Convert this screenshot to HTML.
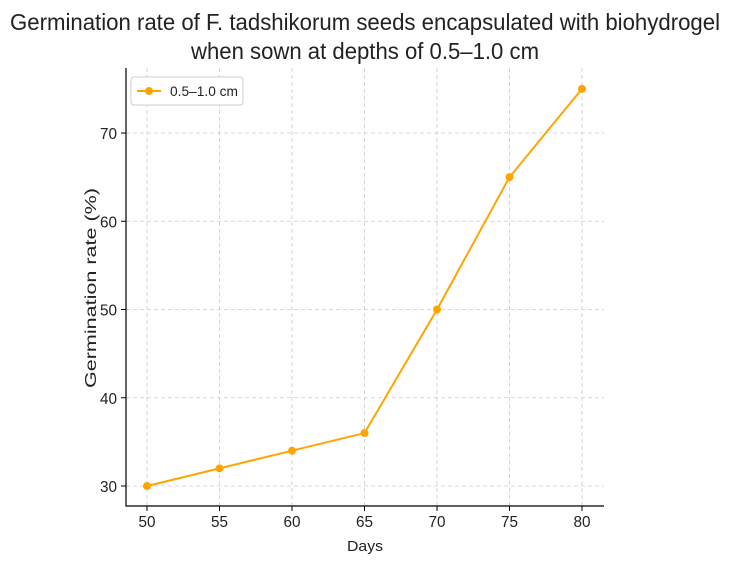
<!DOCTYPE html>
<html><head><meta charset="utf-8"><style>
body{margin:0;background:#fff}
svg text{font-family:"Liberation Sans",sans-serif;fill:#222}
</style></head><body>
<svg id="chart" width="729" height="566" xmlns="http://www.w3.org/2000/svg">
<text x="365" y="30" font-size="23" text-anchor="middle" textLength="710" lengthAdjust="spacingAndGlyphs">Germination rate of F. tadshikorum seeds encapsulated with biohydrogel</text>
<text x="365" y="59" font-size="23" text-anchor="middle" textLength="348" lengthAdjust="spacingAndGlyphs">when sown at depths of 0.5–1.0 cm</text>
<g id="grid"></g><g id="axes"></g><g id="series"></g>
<text x="365" y="551" font-size="15" text-anchor="middle" textLength="36" lengthAdjust="spacingAndGlyphs">Days</text>
<text transform="translate(96,288) rotate(-90)" font-size="16" text-anchor="middle" textLength="200" lengthAdjust="spacingAndGlyphs">Germination rate (%)</text>
<g>
<rect x="131" y="77" width="112" height="28" rx="3" fill="#fff" stroke="#ccc"/>
<line x1="137" y1="91" x2="161" y2="91" stroke="#FFA500" stroke-width="2"/>
<circle cx="149" cy="91" r="4" fill="#FFA500"/>
<text x="170" y="96" font-size="14" textLength="68" lengthAdjust="spacingAndGlyphs">0.5–1.0 cm</text>
</g>
</svg>
<script>
const days=[50,55,60,65,70,75,80];
const rates=[30,32,34,36,50,65,75];
const xTicks=[50,55,60,65,70,75,80];
const yTicks=[30,40,50,60,70];
const NS="http://www.w3.org/2000/svg";
const L=126,R=604,T=68,B=506;
const xs=v=>147+(v-50)*(582-147)/30;
const ys=v=>486-(v-30)*(486-133)/40;
function mk(tag,attrs,parent){const e=document.createElementNS(NS,tag);for(const k in attrs)e.setAttribute(k,attrs[k]);document.getElementById(parent).appendChild(e);return e;}
xTicks.forEach(t=>{
 const g=mk('line',{x1:xs(t),x2:xs(t),y1:T,y2:B,stroke:'#ccc','stroke-dasharray':'4,3','stroke-width':0.8},'grid');
 
 
 const tk=mk('line',{x1:xs(t),x2:xs(t),y1:B,y2:B+5,stroke:'#000'},'axes');
 
 
 const tx=mk('text',{x:xs(t),y:B+21,'font-size':16,'text-anchor':'middle',textLength:17,lengthAdjust:'spacingAndGlyphs'},'axes');
 
 
 tx.textContent=t;
});
yTicks.forEach(t=>{
 const g=mk('line',{x1:L,x2:R,y1:ys(t),y2:ys(t),stroke:'#ccc','stroke-dasharray':'4,3','stroke-width':0.8},'grid');
 
 
 const tk=mk('line',{x1:L-5,x2:L,y1:ys(t),y2:ys(t),stroke:'#000'},'axes');
 
 
 const tx=mk('text',{x:L-9,y:ys(t)+6,'font-size':16,'text-anchor':'end',textLength:17,lengthAdjust:'spacingAndGlyphs'},'axes');
 
 
 tx.textContent=t;
});
const ax=mk('path',{d:`M${L},${T} V${B} H${R}`,fill:'none',stroke:'#000','stroke-width':1.2},'axes');


const ln=mk('polyline',{points:days.map((d,i)=>xs(d)+','+ys(rates[i])).join(' '),fill:'none',stroke:'#FFA500','stroke-width':2},'series');


days.forEach((d,i)=>{
 const c=mk('circle',{cx:xs(d),cy:ys(rates[i]),r:4,fill:'#FFA500'},'series');
 
 
});
</script>
</body></html>
